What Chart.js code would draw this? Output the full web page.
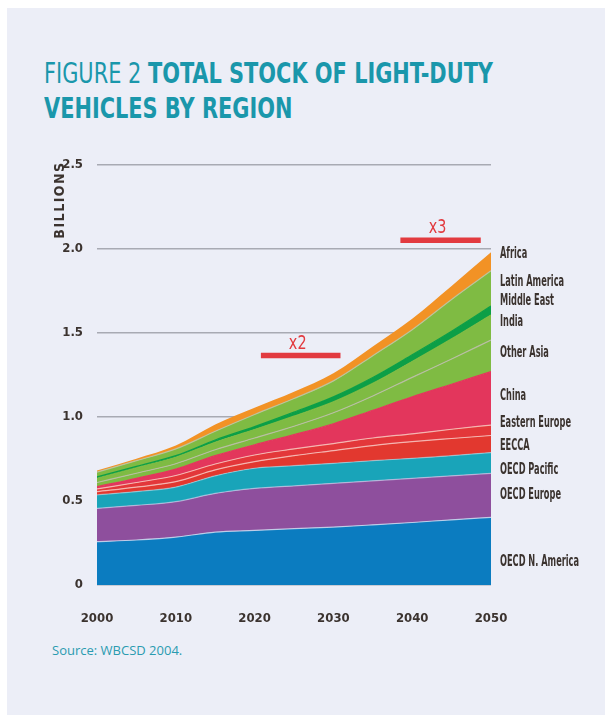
<!DOCTYPE html>
<html>
<head>
<meta charset="utf-8">
<script src="https://cdn.jsdelivr.net/npm/chart.js@4.4.0/dist/chart.umd.min.js"></script>
<style>
  html, body { margin: 0; padding: 0; background: #eceef7; }
  #pagina { position: relative; width: 605px; height: 715px; overflow: hidden; background: #eceef7; }
  #bordoAlto { position: absolute; left: 0; top: 0; width: 605px; height: 8px; background: #fff; }
  #bordoSx { position: absolute; left: 0; top: 0; width: 7px; height: 715px; background: #fff; }
  #titolo { position: absolute; left: 44px; top: 56px; color: #1a97ab; font-family: 'Liberation Sans Narrow', 'DejaVu Sans Condensed', sans-serif; font-size: 29px; line-height: 35px; font-weight: bold; white-space: nowrap; transform-origin: 0 0; }
  #titolo .leggero { font-weight: normal; }
  #fonte { position: absolute; left: 52px; top: 641px; color: #2a9bb0; font-family: 'Open Sans', sans-serif; font-size: 13px; }
  canvas { position: absolute; left: 0; top: 0; }
</style>
</head>
<body>
<div id="pagina">
  <div id="bordoAlto"></div>
  <div id="bordoSx"></div>
  <div id="titolo"><span class="leggero">FIGURE 2 </span>TOTAL STOCK OF LIGHT-DUTY<br>VEHICLES BY REGION</div>
  <div id="fonte">Source: WBCSD 2004.</div>
  <canvas id="grafico" width="605" height="715"></canvas>
</div>
<script>
// Parco veicoli leggeri per regione (miliardi)
const anni = [2000, 2005, 2010, 2015, 2020, 2025, 2030, 2035, 2040, 2045, 2050];
const regioni = ['OECD N. America', 'OECD Europe', 'OECD Pacific', 'EECCA', 'Eastern Europe', 'China', 'Other Asia', 'India', 'Middle East', 'Latin America', 'Africa'];

const oecdNordAmerica = [0.258, 0.268, 0.285, 0.315, 0.325, 0.335, 0.345, 0.358, 0.372, 0.388, 0.403];
const oecdEuropa      = [0.198, 0.206, 0.211, 0.230, 0.250, 0.255, 0.260, 0.262, 0.263, 0.262, 0.262];
const oecdPacifico    = [0.080, 0.082, 0.087, 0.105, 0.120, 0.120, 0.119, 0.120, 0.119, 0.120, 0.123];
const eecca           = [0.020, 0.027, 0.032, 0.035, 0.039, 0.060, 0.076, 0.090, 0.099, 0.102, 0.102];
const europaEst       = [0.016, 0.027, 0.037, 0.035, 0.040, 0.040, 0.042, 0.045, 0.047, 0.055, 0.062];
const cina            = [0.013, 0.025, 0.038, 0.050, 0.061, 0.085, 0.118, 0.165, 0.220, 0.268, 0.318];
const altraAsia       = [0.025, 0.030, 0.032, 0.035, 0.040, 0.050, 0.065, 0.085, 0.116, 0.150, 0.188];
const india           = [0.025, 0.032, 0.038, 0.045, 0.050, 0.060, 0.065, 0.075, 0.094, 0.120, 0.149];
const medioOriente    = [0.008, 0.009, 0.010, 0.013, 0.018, 0.024, 0.030, 0.035, 0.040, 0.045, 0.053];
const americaLatina   = [0.029, 0.034, 0.040, 0.052, 0.072, 0.081, 0.095, 0.130, 0.150, 0.190, 0.210];
const africa          = [0.010, 0.012, 0.020, 0.040, 0.040, 0.040, 0.045, 0.055, 0.065, 0.080, 0.110];

const tickAnniX = [2000, 2010, 2020, 2030, 2040, 2050];
const tickValoriY = [0, 0.5, 1.0, 1.5, 2.0, 2.5];

const serie = [oecdNordAmerica, oecdEuropa, oecdPacifico, eecca, europaEst, cina, altraAsia, india, medioOriente, americaLatina, africa];
const colori = ['#0b7cc0', '#8e4f9d', '#19a4b9', '#e2382f', '#e3373a', '#e3365c', '#7fbb43', '#7fbb43', '#0c9f47', '#7fbb43', '#f29225'];
const bordi = ['rgba(215,220,240,0.8)', 'rgba(205,215,240,0.6)', 'rgba(200,225,235,0.5)', 'rgba(245,185,180,0.95)', 'rgba(245,185,180,0.95)', '#e3365c', 'rgba(185,190,165,0.95)', '#7fbb43', '#0c9f47', 'rgba(190,195,160,0.9)', '#f29225'];

const font = "'Liberation Sans Narrow', 'DejaVu Sans Condensed', sans-serif";
const scuro = '#3b332f';

// adatta la larghezza del titolo
const titolo = document.getElementById('titolo');
const riga1 = document.createElement('span');
riga1.style.whiteSpace = 'nowrap';
riga1.innerHTML = '<span class="leggero">FIGURE 2 </span>TOTAL STOCK OF LIGHT-DUTY';
titolo.appendChild(riga1);
const largo = riga1.getBoundingClientRect().width;
titolo.removeChild(riga1);
titolo.style.transform = 'scaleX(' + (449 / largo) + ')';

// etichette delle regioni, x2 / x3 e titolo asse
const decorazioni = {
    id: 'decorazioni',
    afterDraw(chart) {
        const ctx = chart.ctx;
        const x = chart.scales.x, y = chart.scales.y;
        ctx.save();
        // etichette a destra
        const posY = [562, 495, 470, 446, 423, 396, 353, 322, 301, 282, 254];
        ctx.font = 'bold 16px ' + font;
        ctx.fillStyle = scuro;
        ctx.textBaseline = 'middle';
        const fattore = Math.min(1, 79 / ctx.measureText('OECD N. America').width);
        regioni.forEach((r, i) => {
            ctx.save();
            ctx.translate(500, posY[i]);
            ctx.scale(fattore, 1);
            ctx.fillText(r, 0, 0);
            ctx.restore();
        });
        // barre x2 e x3
        ctx.fillStyle = '#e23a3f';
        ctx.strokeStyle = '#e23a3f';
        ctx.lineWidth = 5.5;
        [[2020.8, 2030.9, 1.366, 'x2'], [2038.5, 2048.7, 2.052, 'x3']].forEach(b => {
            const x0 = x.getPixelForValue(b[0]), x1 = x.getPixelForValue(b[1]);
            const yy = y.getPixelForValue(b[2]);
            ctx.beginPath();
            ctx.moveTo(x0, yy);
            ctx.lineTo(x1, yy);
            ctx.stroke();
            ctx.save();
            ctx.font = '20px ' + font;
            ctx.textAlign = 'center';
            ctx.textBaseline = 'alphabetic';
            ctx.translate((x0 + x1) / 2 - 3, yy - 7);
            ctx.scale(0.8, 1);
            ctx.fillText(b[3], 0, 0);
            ctx.restore();
        });
        // BILLIONS
        ctx.save();
        ctx.translate(64, 200);
        ctx.rotate(-Math.PI / 2);
        ctx.font = 'bold 14px ' + font;
        ctx.fillStyle = scuro;
        ctx.textAlign = 'center';
        ctx.textBaseline = 'alphabetic';
        ctx.letterSpacing = '1.5px';
        ctx.fillText('BILLIONS', 0, 0);
        ctx.restore();
        ctx.restore();
    }
};

new Chart(document.getElementById('grafico'), {
    type: 'line',
    data: {
        datasets: regioni.map((r, i) => ({
            label: r,
            data: anni.map((a, k) => ({ x: a, y: serie[i][k] })),
            backgroundColor: colori[i],
            borderColor: bordi[i],
            borderWidth: i === regioni.length - 1 ? 0 : 1.2,
            pointRadius: 0,
            fill: i === 0 ? 'origin' : '-1',
            cubicInterpolationMode: 'monotone'
        }))
    },
    options: {
        responsive: false,
        animation: false,
        layout: { padding: { left: 57, right: 114, top: 165, bottom: 80 } },
        plugins: { legend: { display: false }, tooltip: { enabled: false } },
        scales: {
            x: {
                type: 'linear',
                min: 2000,
                max: 2050,
                grid: { display: false },
                border: { display: false },
                afterFit: s => { s.height = 50; },
                afterBuildTicks: s => { s.ticks = tickAnniX.map(v => ({ value: v })); },
                ticks: {
                    padding: 18,
                    color: scuro,
                    maxRotation: 0,
                    font: { family: font, size: 13, weight: 'bold' },
                    callback: v => String(v)
                }
            },
            y: {
                stacked: true,
                min: 0,
                max: 2.5,
                border: { display: false },
                grid: { color: '#a8aab3', lineWidth: 1.5, drawTicks: false },
                afterFit: s => { s.width = 40; },
                afterBuildTicks: s => { s.ticks = tickValoriY.map(v => ({ value: v })); },
                ticks: {
                    padding: 14,
                    color: scuro,
                    font: { family: font, size: 13, weight: 'bold' },
                    callback: v => v === 0 ? '0' : v.toFixed(1)
                }
            }
        }
    },
    plugins: [decorazioni]
});
</script>
</body>
</html>
